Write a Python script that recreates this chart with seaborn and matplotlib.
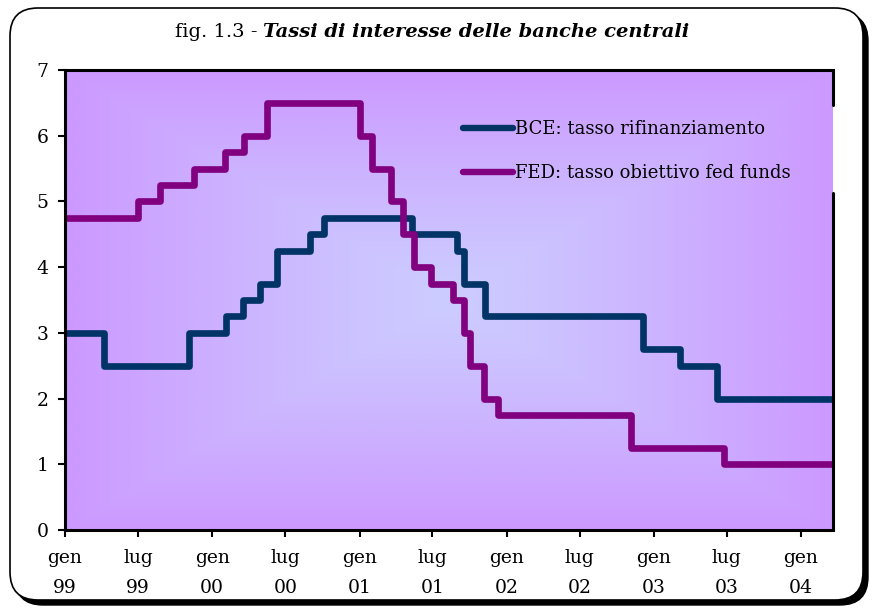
import numpy as np
import pandas as pd
import matplotlib
matplotlib.use('Agg')
import matplotlib.pyplot as plt
from matplotlib.lines import Line2D
from matplotlib.patches import FancyBboxPatch
from matplotlib.transforms import IdentityTransform
import seaborn as sns

# change dates and rates (last entry just carries the rate to the end of the axis)
bce_dates = ['1999-01-01', '1999-04-09', '1999-11-05', '2000-02-04', '2000-03-17', '2000-04-28',
             '2000-06-09', '2000-09-01', '2000-10-06', '2001-05-11', '2001-08-31', '2001-09-18',
             '2001-11-09', '2002-12-06', '2003-03-07', '2003-06-06', '2004-03-31']
bce_rates = [3.0, 2.5, 3.0, 3.25, 3.5, 3.75, 4.25, 4.5, 4.75, 4.5, 4.25, 3.75, 3.25, 2.75, 2.5, 2.0, 2.0]

fed_dates = ['1999-01-01', '1999-06-30', '1999-08-24', '1999-11-16', '2000-02-02', '2000-03-21',
             '2000-05-16', '2001-01-03', '2001-01-31', '2001-03-20', '2001-04-18', '2001-05-15',
             '2001-06-27', '2001-08-21', '2001-09-17', '2001-10-02', '2001-11-06', '2001-12-11',
             '2002-11-06', '2003-06-25', '2004-03-31']
fed_rates = [4.75, 5.0, 5.25, 5.5, 5.75, 6.0, 6.5, 6.0, 5.5, 5.0, 4.5, 4.0, 3.75, 3.5, 3.0, 2.5, 2.0, 1.75,
             1.25, 1.0, 1.0]

series_names = ['BCE: tasso rifinanziamento', 'FED: tasso obiettivo fed funds']
series_colors = ['#003366', '#800080']

tick_dates = ['1999-01-01', '1999-07-01', '2000-01-01', '2000-07-01', '2001-01-01', '2001-07-01',
              '2002-01-01', '2002-07-01', '2003-01-01', '2003-07-01', '2004-01-01']
tick_labels = ['gen\n99', 'lug\n99', 'gen\n00', 'lug\n00', 'gen\n01', 'lug\n01',
               'gen\n02', 'lug\n02', 'gen\n03', 'lug\n03', 'gen\n04']

df = pd.concat([
    pd.DataFrame({'data': pd.to_datetime(bce_dates), 'tasso': bce_rates, 'serie': series_names[0]}),
    pd.DataFrame({'data': pd.to_datetime(fed_dates), 'tasso': fed_rates, 'serie': series_names[1]}),
])

sns.set_style('ticks')
plt.rcParams['font.family'] = ['DejaVu Serif']
plt.rcParams['text.color'] = 'black'
plt.rcParams['xtick.color'] = 'black'
plt.rcParams['ytick.color'] = 'black'

fig = plt.figure(figsize=(8.76, 6.08), dpi=100)

# rounded frame with shadow
shadow = FancyBboxPatch((15, 3), 853, 592, boxstyle='round,pad=0,rounding_size=28',
                        transform=IdentityTransform(), facecolor='black', edgecolor='black', zorder=-2)
frame = FancyBboxPatch((10, 8), 853, 592, boxstyle='round,pad=0,rounding_size=28',
                       transform=IdentityTransform(), facecolor='white', edgecolor='black',
                       linewidth=1.2, zorder=-1)
fig.patches.extend([shadow, frame])

pos = [65 / 876, 1 - 530 / 608, 768 / 876, 460 / 608]

# background gradient (rectangular, light in the centre)
bg = fig.add_axes(pos, zorder=0)
u = np.linspace(-1, 1, 400)
v = np.linspace(-1, 1, 300)
U, V = np.meshgrid(u, v)
t = np.maximum(np.abs(U), np.abs(V)) ** 1.2
c_in = np.array([204, 204, 255]) / 255
c_out = np.array([204, 153, 255]) / 255
grad = c_in[None, None, :] * (1 - t[..., None]) + c_out[None, None, :] * t[..., None]
bg.imshow(grad, aspect='auto', extent=[0, 1, 0, 1], interpolation='bilinear')
bg.axis('off')

ax = fig.add_axes(pos, zorder=1)
ax.patch.set_alpha(0)

sns.lineplot(data=df, x='data', y='tasso', hue='serie', palette=series_colors, drawstyle='steps-post',
             linewidth=4.8, errorbar=None, legend=False, ax=ax, solid_joinstyle='round')

ax.set_xlim(pd.Timestamp('1999-01-01'), pd.Timestamp('2004-03-21'))
ax.set_ylim(0, 7)
ax.set_xticks(pd.to_datetime(tick_dates))
ax.set_xticklabels(tick_labels, fontsize=13.5, linespacing=1.8)
ax.set_yticks(range(8))
ax.set_yticklabels([str(i) for i in range(8)], fontsize=13.5)
ax.tick_params(axis='both', direction='out', length=5, width=1.5, color='black', labelcolor='black')
ax.tick_params(axis='x', pad=9)
ax.tick_params(axis='y', pad=7)
ax.set_xlabel('')
ax.set_ylabel('')

for s in ['left', 'bottom', 'top']:
    ax.spines[s].set_visible(True)
    ax.spines[s].set_linewidth(2.2)
    ax.spines[s].set_color('black')
ax.spines['right'].set_visible(False)
# right border interrupted by the legend
ax.add_line(Line2D([1, 1], [0.924, 1], transform=ax.transAxes, color='black', lw=2.2, clip_on=False))
ax.add_line(Line2D([1, 1], [0, 0.733], transform=ax.transAxes, color='black', lw=2.2, clip_on=False))

handles = [Line2D([], [], color=c, lw=4.6, solid_capstyle='round') for c in series_colors]
ax.legend(handles, series_names, loc='upper left', bbox_to_anchor=(0.497, 0.926), frameon=False,
          fontsize=13, handlelength=2.75, handletextpad=0.15, labelspacing=1.45)

# title: plain part + bold italic part, centred together
t1 = fig.text(0, 1 - 37 / 608, 'fig. 1.3 - ', fontsize=14, va='baseline')
t2 = fig.text(0, 1 - 37 / 608, 'Tassi di interesse delle banche centrali', fontsize=14,
              fontweight='bold', fontstyle='italic', va='baseline')
r = fig.canvas.get_renderer()
w1 = t1.get_window_extent(r).width
w2 = t2.get_window_extent(r).width
x0 = 432 - (w1 + w2) / 2
t1.set_x(x0 / 876)
t2.set_x((x0 + w1) / 876)

fig.savefig('out.png', dpi=100)
